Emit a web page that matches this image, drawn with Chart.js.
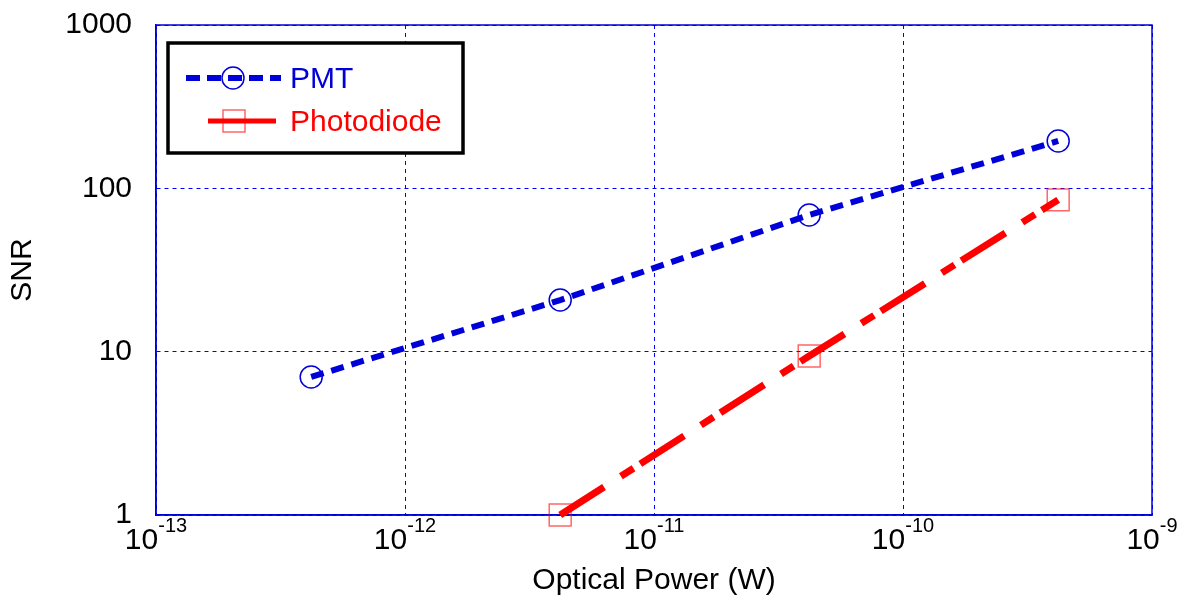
<!DOCTYPE html>
<html>
<head>
<meta charset="utf-8">
<script src="https://cdn.jsdelivr.net/npm/chart.js@4/dist/chart.umd.min.js"></script>
<style>
  html, body { margin: 0; padding: 0; background: #fff; }
  #wrap { width: 1188px; height: 600px; }
</style>
</head>
<body>
<div id="wrap"><canvas id="chart"></canvas></div>
<script>
// optical power (W) and SNR
const pmtPower = [4.2e-13, 4.2e-12, 4.2e-11, 4.2e-10];
const pmtSnr = [7.0, 20.7, 68.7, 195];
const diodePower = [4.2e-12, 4.2e-11, 4.2e-10];
const diodeSnr = [1.0, 9.4, 85];

const xTickExps = [-13, -12, -11, -10, -9];
const yTicks = [1, 10, 100, 1000];

const FONT = "'Liberation Sans', Arial, sans-serif";
const BLUE = '#0000d8';
const RED = '#ff0000';
const GRID = '#0000ff';

const toXY = (xs, ys) => xs.map((x, i) => ({ x: x, y: ys[i] }));

// solid frame, 10^n tick labels, boxed legend
const extras = {
  id: 'extras',
  beforeDatasetsDraw(chart) {
    const { ctx, chartArea: a } = chart;
    ctx.save();
    ctx.strokeStyle = BLUE;
    ctx.lineWidth = 1.5;
    ctx.strokeRect(a.left, a.top, a.right - a.left, a.bottom - a.top);
    ctx.restore();
  },
  afterDraw(chart) {
    const ctx = chart.ctx;
    const xs = chart.scales.x;
    ctx.save();
    ctx.fillStyle = '#000';
    ctx.textAlign = 'left';
    ctx.textBaseline = 'alphabetic';
    xTickExps.forEach(e => {
      const px = xs.getPixelForValue(Math.pow(10, e));
      ctx.font = '30px ' + FONT;
      const wb = ctx.measureText('10').width;
      ctx.font = '20px ' + FONT;
      const we = ctx.measureText(String(e)).width;
      const x0 = px - (wb + we) / 2;
      ctx.font = '30px ' + FONT;
      ctx.fillText('10', x0, 549);
      ctx.font = '20px ' + FONT;
      ctx.fillText(String(e), x0 + wb, 532);
    });

    // legend
    ctx.fillStyle = '#fff';
    ctx.fillRect(168, 43, 295, 110);
    ctx.strokeStyle = '#000';
    ctx.lineWidth = 3.5;
    ctx.strokeRect(168, 43, 295, 110);

    const ds = chart.data.datasets;
    const rows = [
      { d: ds[0], y: 78, x1: 186, x2: 281, mx: 233, dash: [14, 7], lw: 6 },
      { d: ds[1], y: 121, x1: 208, x2: 276, mx: 234, dash: [], lw: 5 }
    ];
    rows.forEach((r, i) => {
      ctx.strokeStyle = r.d.borderColor;
      ctx.lineWidth = r.lw;
      ctx.setLineDash(r.dash);
      ctx.beginPath();
      ctx.moveTo(r.x1, r.y);
      ctx.lineTo(r.x2, r.y);
      ctx.stroke();
      ctx.setLineDash([]);
      ctx.strokeStyle = r.d.pointBorderColor;
      ctx.lineWidth = 1.5;
      ctx.beginPath();
      if (i === 0) ctx.arc(r.mx, r.y, 11, 0, Math.PI * 2);
      else ctx.rect(r.mx - 11, r.y - 11, 22, 22);
      ctx.stroke();
      ctx.fillStyle = r.d.borderColor;
      ctx.font = '30px ' + FONT;
      ctx.fillText(r.d.label, 290, r.y + 10);
    });
    ctx.restore();
  }
};

const gridOpts = () => ({ color: GRID, lineWidth: 1, drawTicks: false });
const borderOpts = () => ({ display: true, color: BLUE, width: 1.5, dash: [4, 4] });

new Chart(document.getElementById('chart'), {
  type: 'line',
  data: {
    datasets: [
      {
        label: 'PMT',
        data: toXY(pmtPower, pmtSnr),
        borderColor: BLUE,
        borderWidth: 6,
        borderDash: [13, 8],
        pointStyle: 'circle',
        pointRadius: 11,
        pointBorderWidth: 1.5,
        pointBorderColor: BLUE,
        pointBackgroundColor: 'rgba(0,0,0,0)',
        clip: false
      },
      {
        label: 'Photodiode',
        data: toXY(diodePower, diodeSnr),
        borderColor: RED,
        borderWidth: 7,
        borderDash: [52, 20, 15, 8],
        pointStyle: 'rect',
        pointRadius: 15.5,
        pointBorderWidth: 1.5,
        pointBorderColor: 'rgba(255,0,0,0.6)',
        pointBackgroundColor: 'rgba(0,0,0,0)',
        clip: false
      }
    ]
  },
  options: {
    responsive: true,
    maintainAspectRatio: false,
    animation: false,
    layout: { padding: { top: 25, right: 36, left: 0, bottom: 0 } },
    plugins: { legend: { display: false }, tooltip: { enabled: false } },
    scales: {
      x: {
        type: 'logarithmic',
        min: 1e-13,
        max: 1e-9,
        afterBuildTicks: s => { s.ticks = xTickExps.map(e => ({ value: Math.pow(10, e) })); },
        afterFit: s => { s.height = 85; },
        ticks: { display: false },
        grid: gridOpts(),
        border: borderOpts(),
        title: {
          display: true,
          text: 'Optical Power (W)',
          color: '#000',
          font: { family: FONT, size: 30 },
          padding: { top: 0, bottom: 1 }
        }
      },
      y: {
        type: 'logarithmic',
        min: 1,
        max: 1000,
        afterBuildTicks: s => { s.ticks = yTicks.map(v => ({ value: v })); },
        afterFit: s => {
          s.width = 156;
          // tick padding is horizontal only here; keep it out of the top/bottom overflow
          s.paddingTop = 18;
          s.paddingBottom = 18;
        },
        ticks: {
          color: '#000',
          font: { family: FONT, size: 30 },
          padding: 24,
          callback: v => String(v)
        },
        grid: gridOpts(),
        border: borderOpts(),
        title: {
          display: true,
          text: 'SNR',
          color: '#000',
          font: { family: FONT, size: 30 },
          padding: { top: 5, bottom: 0 }
        }
      }
    }
  },
  plugins: [extras]
});
</script>
</body>
</html>
